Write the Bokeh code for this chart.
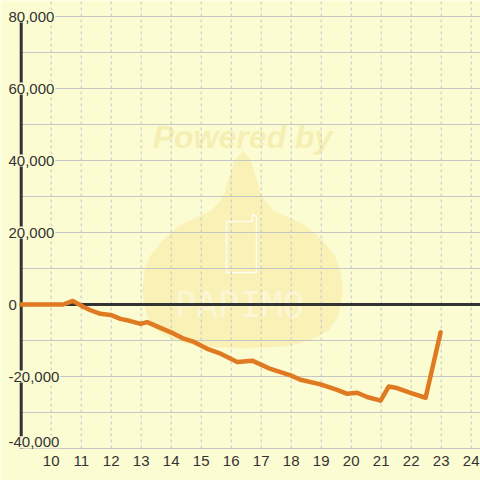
from bokeh.plotting import figure
from bokeh.models import Range1d
from bokeh.core.properties import value
from bokeh.embed import file_html
from bokeh.resources import INLINE

# ---- data ----
hours = [9.0, 10.4, 10.72, 11.08, 11.31, 11.64, 11.98, 12.31, 12.64, 12.98, 13.2,
         13.64, 14.09, 14.42, 14.76, 15.2, 15.6, 16.2, 16.7, 17.31, 17.98, 18.31,
         18.98, 19.53, 19.87, 20.2, 20.53, 20.98, 21.25, 21.48, 22.0, 22.48, 22.98]
balance = [0, 0, 1000, -700, -1600, -2600, -2900, -4000, -4600, -5400, -4900,
           -6500, -8100, -9500, -10400, -12300, -13500, -16000, -15600, -17900, -19700, -20900,
           -22200, -23700, -24800, -24500, -25700, -26700, -22800, -23100, -24600, -25900, -7700]
x_ticks = list(range(10, 25))
y_grid = list(range(-40000, 80001, 10000))
y_label_ticks = [-40000, -20000, 0, 20000, 40000, 60000, 80000]
y_label_text = ["-40,000", "-20,000", "0", "20,000", "40,000", "60,000", "80,000"]

BG = "#fcfcd2"
INK = "#333333"
FONT = "Liberation Sans"

# pixel (reference) -> data helpers for decoration
def rx(px):
    return 10 + (px - 50.7) / 30.0

def ry(py):
    return (304 - py) * 1000 / 3.6

AXIS_X = 9.0

p = figure(width=480, height=480, output_backend="svg", toolbar_location=None,
           x_range=Range1d(rx(0), rx(480)), y_range=Range1d(ry(480), ry(0)),
           x_axis_location=None, y_axis_location=None, min_border=0,
           background_fill_color=BG, border_fill_color=BG, outline_line_color=None)
p.grid.visible = False

# ---- watermark ----
right = [(243, 150), (250, 160), (255, 175), (259, 190), (264, 200), (273, 210), (290, 218),
         (305, 225), (322, 240), (334, 255), (340, 270), (342, 290), (338, 315), (328, 330),
         (310, 340), (285, 346), (243, 348)]
left = [(2 * 242 - x, y) for (x, y) in reversed(right[1:-1])]
outline = right + left
p.patch([rx(a) for a, b in outline], [ry(b) for a, b in outline],
        fill_color="#f9f1b6", line_color=None)
phone = [(226, 221), (252, 221), (252, 214), (256, 216), (256, 272), (226, 272), (226, 221)]
p.line([rx(a) for a, b in phone], [ry(b) for a, b in phone], line_color="white",
       line_width=1.5, line_alpha=0.8)
p.text(x=[rx(242)], y=[ry(136)], text=["Powered by"], text_font=value(FONT),
       text_font_style="bold italic", text_font_size="32px", text_color="#f6efb4",
       text_align="center", text_baseline="middle")
p.text(x=[rx(239)], y=[ry(304)], text=["PAPIMO"], text_font=value("DejaVu Sans Mono"),
       text_font_size="36px", text_color="white", text_alpha=0.45,
       text_align="center", text_baseline="middle")

# ---- grid ----
p.segment(x0=[AXIS_X] * len(y_grid), y0=y_grid, x1=[25] * len(y_grid), y1=y_grid,
          line_color="#c6c6c6", line_width=1.2)
p.segment(x0=x_ticks, y0=[-40000] * len(x_ticks), x1=x_ticks, y1=[90000] * len(x_ticks),
          line_color="#c4c4cc", line_width=1, line_dash="3 3")

# ---- axis and zero line ----
p.segment(x0=[AXIS_X], y0=[-40000], x1=[AXIS_X], y1=[80000], line_color=INK, line_width=3)
p.segment(x0=[AXIS_X], y0=[0], x1=[25], y1=[0], line_color=INK, line_width=3)

# ---- data line ----
p.line(hours, balance, line_color="#e07a22", line_width=4.5, line_join="round", line_cap="round")

# ---- labels ----
label_y = [v if v > -40000 else ry(441.7) for v in y_label_ticks]
p.text(x=[rx(7)] * len(label_y), y=label_y, text=y_label_text,
       text_font=value(FONT), text_font_size="15px", text_color=INK,
       text_align="left", text_baseline="middle",
       background_fill_color=BG, background_fill_alpha=1.0, padding=1)
p.text(x=x_ticks, y=[ry(460.7)] * len(x_ticks), text=[str(t) for t in x_ticks],
       text_font=value(FONT), text_font_size="15px", text_color=INK,
       text_align="center", text_baseline="middle")

open("out.html", "w").write(file_html(p, INLINE))
